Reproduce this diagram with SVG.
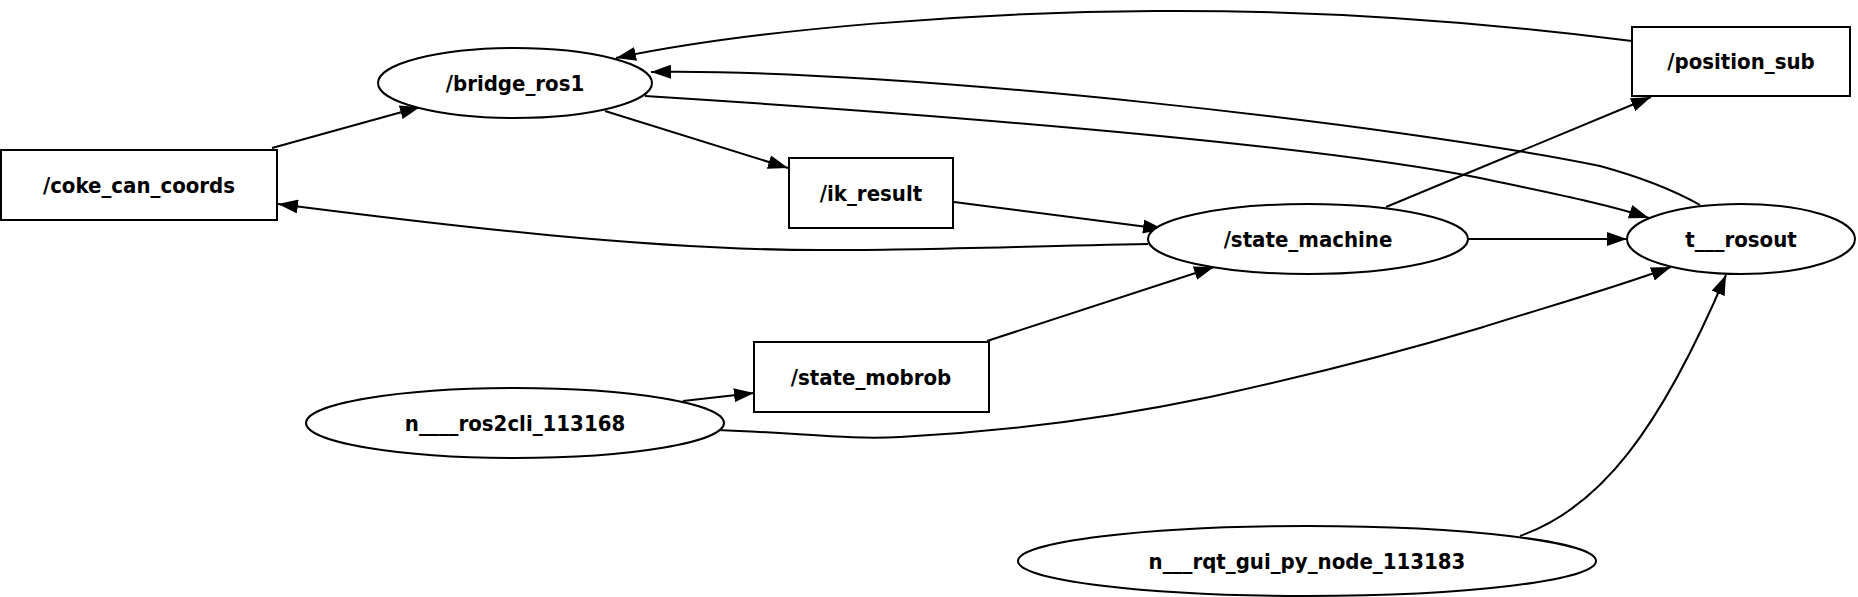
<svg xmlns="http://www.w3.org/2000/svg" width="1858" height="597" viewBox="0 0 1858 597">
<defs>
<style>
.n{fill:#fff;stroke:#000;stroke-width:2}
.t{font-family:"DejaVu Sans Condensed","DejaVu Sans","Liberation Sans",sans-serif;font-stretch:condensed;font-weight:bold;font-size:22px;text-anchor:middle;fill:#000}
.e{fill:none;stroke:#000;stroke-width:2;marker-end:url(#ah)}
</style>
<marker id="ah" viewBox="0 0 20 14" refX="20" refY="7" markerWidth="20" markerHeight="14" markerUnits="userSpaceOnUse" orient="auto">
<path d="M0,0 L20,7 L0,14 z" fill="#000"/>
</marker>
</defs>
<rect width="1858" height="597" fill="#fff"/>
<g id="edges">
<path class="e" d="M272,148 L420,107"/>
<path class="e" d="M605,111 L788,168"/>
<path class="e" d="M954,202 L1163,229"/>
<path class="e" d="M1148,244 C1000,247 880,251 820,250 C650,250 450,226 278,204"/>
<path class="e" d="M987,341 L1214,267"/>
<path class="e" d="M683,401 L754,393"/>
<path class="e" d="M1386,207 L1651,97"/>
<path class="e" d="M1468,239 L1627,239"/>
<path class="e" d="M1632,41 C1450,18 1300,10 1155,11 C980,12 760,28 616,58"/>
<path class="e" d="M1700,205 C1670,188 1640,177 1600,166 C1400,125 900,68 651,72"/>
<path class="e" d="M645,96 C900,112 1300,142 1480,178 C1560,195 1610,205 1649,218"/>
<path class="e" d="M718,430 C800,433 850,440 900,437 C1000,432 1100,420 1210,397 C1330,371 1420,346 1480,328 C1560,303 1620,286 1671,267"/>
<path class="e" d="M1520,536 C1600,508 1660,430 1726,275"/>
</g>
<g id="bridge_ros1"><ellipse class="n" cx="515" cy="83" rx="137" ry="35"/><text class="t" x="515" y="91">/bridge_ros1</text></g>
<g id="coke_can_coords"><rect class="n" x="1" y="150" width="276" height="70"/><text class="t" x="139" y="193">/coke_can_coords</text></g>
<g id="ik_result"><rect class="n" x="789" y="158" width="164" height="70"/><text class="t" x="871" y="201">/ik_result</text></g>
<g id="state_machine"><ellipse class="n" cx="1308" cy="239" rx="160" ry="35"/><text class="t" x="1308" y="247">/state_machine</text></g>
<g id="rosout"><ellipse class="n" cx="1741" cy="239" rx="114" ry="35"/><text class="t" x="1741" y="247">t___rosout</text></g>
<g id="position_sub"><rect class="n" x="1632" y="27" width="218" height="69"/><text class="t" x="1741" y="69">/position_sub</text></g>
<g id="state_mobrob"><rect class="n" x="754" y="342" width="235" height="70"/><text class="t" x="871" y="385">/state_mobrob</text></g>
<g id="ros2cli"><ellipse class="n" cx="515" cy="423" rx="209" ry="35"/><text class="t" x="515" y="431">n____ros2cli_113168</text></g>
<g id="rqt_gui"><ellipse class="n" cx="1307" cy="561" rx="289" ry="35"/><text class="t" x="1307" y="569">n___rqt_gui_py_node_113183</text></g>
</svg>
